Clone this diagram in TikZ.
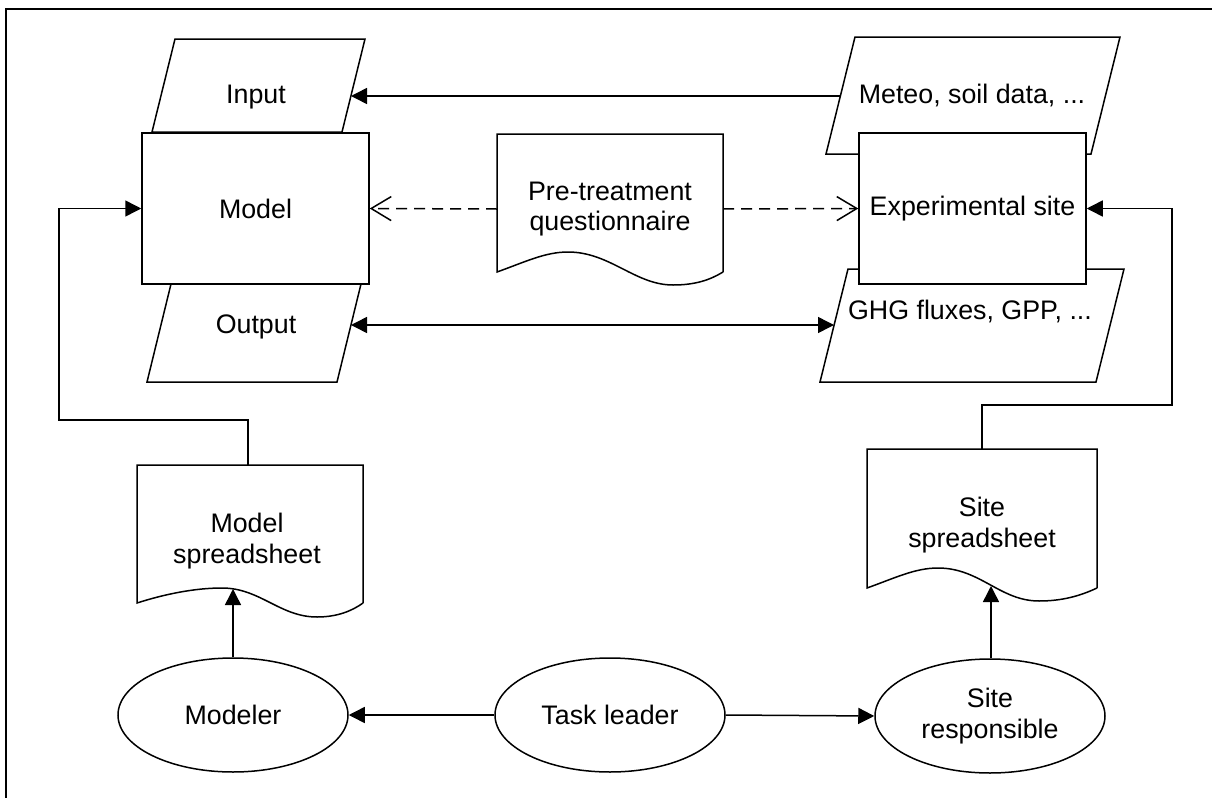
\documentclass[tikz,border=0pt]{standalone}
\usepackage{fontspec}
\setmainfont{Liberation Sans}
\usetikzlibrary{arrows.meta,shapes.geometric}
\begin{document}
\begin{tikzpicture}[x=0.5pt,y=-0.5pt, line width=0.75pt,
  txt/.style={font=\fontsize{13.4}{15.2}\selectfont, align=center, inner sep=0pt},
  boxnode/.style={draw, fill=white, rectangle, minimum width=113.5pt, minimum height=75.5pt, inner sep=0pt, txt},
  ellnode/.style={draw, ellipse, minimum width=115pt, minimum height=57pt, inner sep=0pt, txt},
  arr/.style={-{Triangle[length=8pt,width=8pt]}},
  dbl/.style={{Triangle[length=8pt,width=8pt]}-{Triangle[length=8pt,width=8pt]}},
  dasharr/.style={dash pattern=on 5.5pt off 3.5pt, -{Straight Barb[length=10pt,width=12pt]}},
  para/.style={draw, fill=white, line join=miter},
  doc/.style={draw, fill=white}]
\useasboundingbox (0,0) rectangle (1212,798);

% frame
\draw[line width=1pt] (6,800) -- (6,9) -- (1212,9);

% parallelograms
\draw[para] (152,132) -- (175,39) -- (365,39) -- (342,132) -- cycle;
\draw[para] (171,284) -- (361,284) -- (337,382) -- (147,382) -- cycle;
\draw[para] (826,154) -- (855,37) -- (1120,37) -- (1091,154) -- cycle;
\draw[para] (820,382) -- (848,269) -- (1124,269) -- (1096,382) -- cycle;
\node[txt] (input) at (256,97) {Input};
\node[txt] (output) at (256,327) {Output};
\node[txt] (meteo) at (972,96) {Meteo, soil data, ...};
\node[txt] (ghg) at (970,312) {GHG fluxes, GPP, ...};
\coordinate (inR) at (351,96);
\coordinate (meL) at (840,96);
\coordinate (outR) at (351,325);
\coordinate (ghgL) at (834,325);

% boxes
\node[boxnode] (model) at (255.5,208.5) {Model};
\node[boxnode] (exp) at (972.5,208.5) {Experimental site};

% documents
\draw[doc] (723,272) -- (723,134) -- (497,134) -- (497,272)
  .. controls (525,262) and (545,252) .. (568,252)
  .. controls (610,252) and (635,285) .. (673,285)
  .. controls (695,285) and (710,280) .. (723,272);
\node[txt] (quest) at (610,209) {Pre-treatment\\questionnaire};

\draw[doc] (363,603) -- (363,465) -- (137,465) -- (137,603)
  .. controls (165,594) and (195,588) .. (222,588)
  .. controls (260,588) and (280,617) .. (317,617)
  .. controls (337,617) and (352,611) .. (363,603);
\node[txt] (msheet) at (247,541) {Model\\spreadsheet};
\coordinate (msTop) at (248,465);
\coordinate (msWave) at (233,589);

\draw[doc] (1097,588) -- (1097,449) -- (867,449) -- (867,588)
  .. controls (895,578) and (915,568) .. (938,568)
  .. controls (980,568) and (1000,601) .. (1039,601)
  .. controls (1062,601) and (1080,596) .. (1097,588);
\node[txt] (ssheet) at (982,525) {Site\\spreadsheet};
\coordinate (ssTop) at (982,449);
\coordinate (ssWave) at (991,586);

% ellipses
\node[ellnode] (modeler) at (233,715) {Modeler};
\node[ellnode] (leader) at (610,715) {Task leader};
\node[ellnode] (siteresp) at (990,716) {Site\\responsible};

% connectors
\draw[arr] (meL) -- (inR);
\draw[dbl] (outR) -- (ghgL);
\draw[dasharr] (quest.west -| 497,0) -- (model.east);
\draw[dasharr] (quest.east -| 723,0) -- (exp.west);
\draw[arr] (msTop) -- (248,420) -- (59,420) -- (59,208.5) -- (model.west);
\draw[arr] (ssTop) -- (982,405) -- (1172,405) -- (1172,208.5) -- (exp.east);
\draw[arr] (modeler.north) -- (msWave);
\draw[arr] (siteresp.north -| 991,0) -- (ssWave);
\draw[arr] (leader.west) -- (modeler.east);
\draw[arr] (leader.east) -- (siteresp.west);
\end{tikzpicture}
\end{document}
